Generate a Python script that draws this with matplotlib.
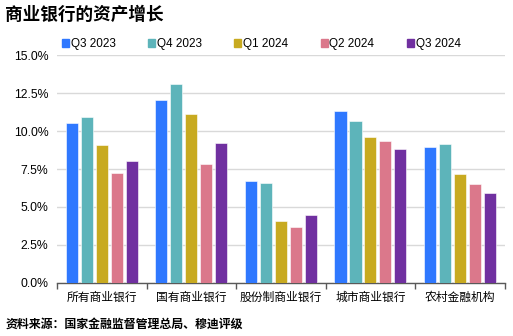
import matplotlib
matplotlib.use("Agg")
import matplotlib.pyplot as plt
import numpy as np
from matplotlib.patches import Patch

plt.rcParams['font.family'] = ['Liberation Sans', 'Noto Sans CJK SC', 'DejaVu Sans']

categories = ["所有商业银行", "国有商业银行", "股份制商业银行", "城市商业银行", "农村金融机构"]
series_names = ["Q3 2023", "Q4 2023", "Q1 2024", "Q2 2024", "Q3 2024"]
q3_2023 = [10.5, 12.05, 6.7, 11.35, 8.95]
q4_2023 = [10.9, 13.1, 6.6, 10.65, 9.15]
q1_2024 = [9.1, 11.15, 4.1, 9.6, 7.2]
q2_2024 = [7.25, 7.85, 3.65, 9.35, 6.5]
q3_2024 = [8.0, 9.2, 4.5, 8.8, 5.95]
yticks = [0, 2.5, 5, 7.5, 10, 12.5, 15]
ytick_labels = ["0.0%", "2.5%", "5.0%", "7.5%", "10.0%", "12.5%", "15.0%"]
colors = ["#2F78FF", "#5DB4BA", "#C8AA20", "#DB788B", "#7030A0"]

title = "商业银行的资产增长"
source = "资料来源：国家金融监督管理总局、穆迪评级"

series = [q3_2023, q4_2023, q1_2024, q2_2024, q3_2024]

fig = plt.figure(figsize=(5.13, 3.36), dpi=100)
ax = fig.add_axes([0.111, 0.158, 0.873, 0.678])

x = np.arange(len(categories))
step = 0.167
width = 0.135
for i, (vals, name, c) in enumerate(zip(series, series_names, colors)):
    ax.bar(x + (i - 2) * step, vals, width=width, color=c, label=name,
           edgecolor="white", linewidth=0.4, zorder=3)

ax.set_xlim(-0.5, len(categories) - 0.5)
ax.set_ylim(0, 15)
ax.set_yticks(yticks)
ax.set_yticklabels(ytick_labels, fontsize=8.8)
ax.yaxis.grid(True, color="#D9D9D9", linewidth=1, zorder=0)
ax.tick_params(axis='y', length=0, pad=6)

ax.set_xticks(x)
ax.set_xticklabels(categories, fontsize=8.5, fontfamily=['Noto Sans CJK SC'])
ax.set_xticks(np.arange(-0.5, len(categories)), minor=True)
ax.tick_params(axis='x', which='major', length=0, pad=6)
ax.tick_params(axis='x', which='minor', length=4, color="#595959", width=1)

for s in ["top", "right", "left"]:
    ax.spines[s].set_visible(False)
ax.spines["bottom"].set_color("#595959")
ax.spines["bottom"].set_linewidth(1)

handles = [Patch(color=c, label=n) for c, n in zip(colors, series_names)]
leg = ax.legend(handles=handles, loc="lower left", bbox_to_anchor=(0.0, 1.0),
                ncol=5, frameon=False, fontsize=8.5, handlelength=0.6,
                handleheight=0.6, handletextpad=0.15, columnspacing=2.75,
                borderaxespad=0.2, borderpad=0.2)

fig.text(0.01, 0.955, title, fontsize=12.7, fontweight="bold",
         fontfamily=['Noto Sans CJK SC'], va="center", ha="left")
fig.text(0.01, 0.035, source, fontsize=8.6, fontweight="bold",
         fontfamily=['Noto Sans CJK SC'], va="center", ha="left")

fig.savefig("out.png", dpi=100)
